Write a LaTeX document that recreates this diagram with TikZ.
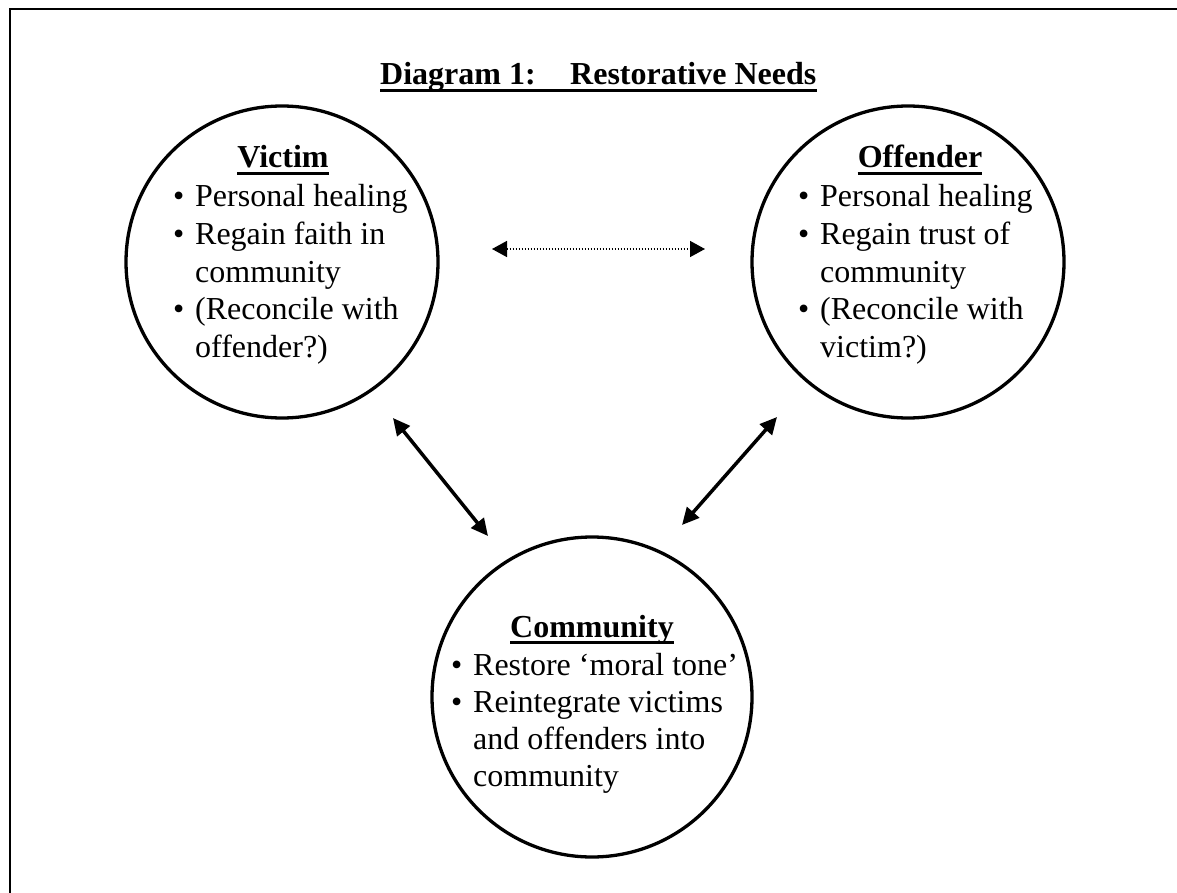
\documentclass[tikz,border=0pt]{standalone}
\usepackage{fontspec}
\setmainfont{Liberation Serif}
\usetikzlibrary{arrows.meta}
\newcommand{\bulitem}{\makebox[23pt][l]{\hspace{1pt}•}}
\begin{document}
\begin{tikzpicture}[x=1pt,y=-1pt,
  ring/.style={draw,circle,line width=3.3pt,inner sep=0pt,minimum size=#1},
  txt/.style={anchor=base west,inner sep=0pt,font=\fontsize{32}{37}\selectfont},
  head/.style={anchor=base,inner sep=0pt,font=\fontsize{32}{37}\selectfont\bfseries},
  uline/.style={line width=3pt},
  link/.style={line width=3.5pt,{Triangle[length=17pt,width=16pt]}-{Triangle[length=17pt,width=16pt]}},
  dotlink/.style={line width=1.5pt,dash pattern=on 1.5pt off 1.5pt,{Triangle[length=15pt,width=16pt]}-{Triangle[length=15pt,width=16pt]}}
]
\useasboundingbox (0,0) rectangle (1177,893);
% frame
\draw[line width=2pt] (1177,9.5) -- (9.5,9.5) -- (9.5,893);

% title
\node[head,anchor=base west] (t1) at (380,85) {Diagram 1:};
\node[head,anchor=base west] (t2) at (570,85) {Restorative Needs};
\draw[uline] ([yshift=-6pt]t1.base west) -- ([yshift=-6pt]t2.base east);

% circles
\node[ring=312pt] (victim) at (282,262) {};
\node[ring=312pt] (offender) at (908,262) {};
\node[ring=320pt] (community) at (592,697) {};

% victim text
\node[head] (vh) at (283,168) {Victim};
\draw[uline] ([yshift=-5.5pt]vh.base west) -- ([yshift=-5.5pt]vh.base east);
\node[txt] (v1) at (172,207) {\bulitem Personal healing};
\node[txt] (v2) at (172,244.5) {\bulitem Regain faith in};
\node[txt] (v3) at (195,282) {community};
\node[txt] (v4) at (172,319.5) {\bulitem (Reconcile with};
\node[txt] (v5) at (195,357) {offender?)};

% offender text
\node[head] (oh) at (920,168) {Offender};
\draw[uline] ([yshift=-5.5pt]oh.base west) -- ([yshift=-5.5pt]oh.base east);
\node[txt] (o1) at (797,207) {\bulitem Personal healing};
\node[txt] (o2) at (797,244.5) {\bulitem Regain trust of};
\node[txt] (o3) at (820,282) {community};
\node[txt] (o4) at (797,319.5) {\bulitem (Reconcile with};
\node[txt] (o5) at (820,357) {victim?)};

% community text
\node[head] (ch) at (592,637) {Community};
\draw[uline] ([yshift=-5.5pt]ch.base west) -- ([yshift=-5.5pt]ch.base east);
\node[txt] (c1) at (450,675) {\bulitem Restore ‘moral tone’};
\node[txt] (c2) at (450,712) {\bulitem Reintegrate victims};
\node[txt] (c3) at (473,749) {and offenders into};
\node[txt] (c4) at (473,786) {community};

% connectors
\coordinate (vo1) at (492,249);
\coordinate (vo2) at (705,249);
\coordinate (vc1) at (393,418);
\coordinate (vc2) at (488,536);
\coordinate (oc1) at (777,417);
\coordinate (oc2) at (682,525);
\draw[dotlink] (vo1) -- (vo2);
\draw[link] (vc1) -- (vc2);
\draw[link] (oc1) -- (oc2);
\end{tikzpicture}
\end{document}
